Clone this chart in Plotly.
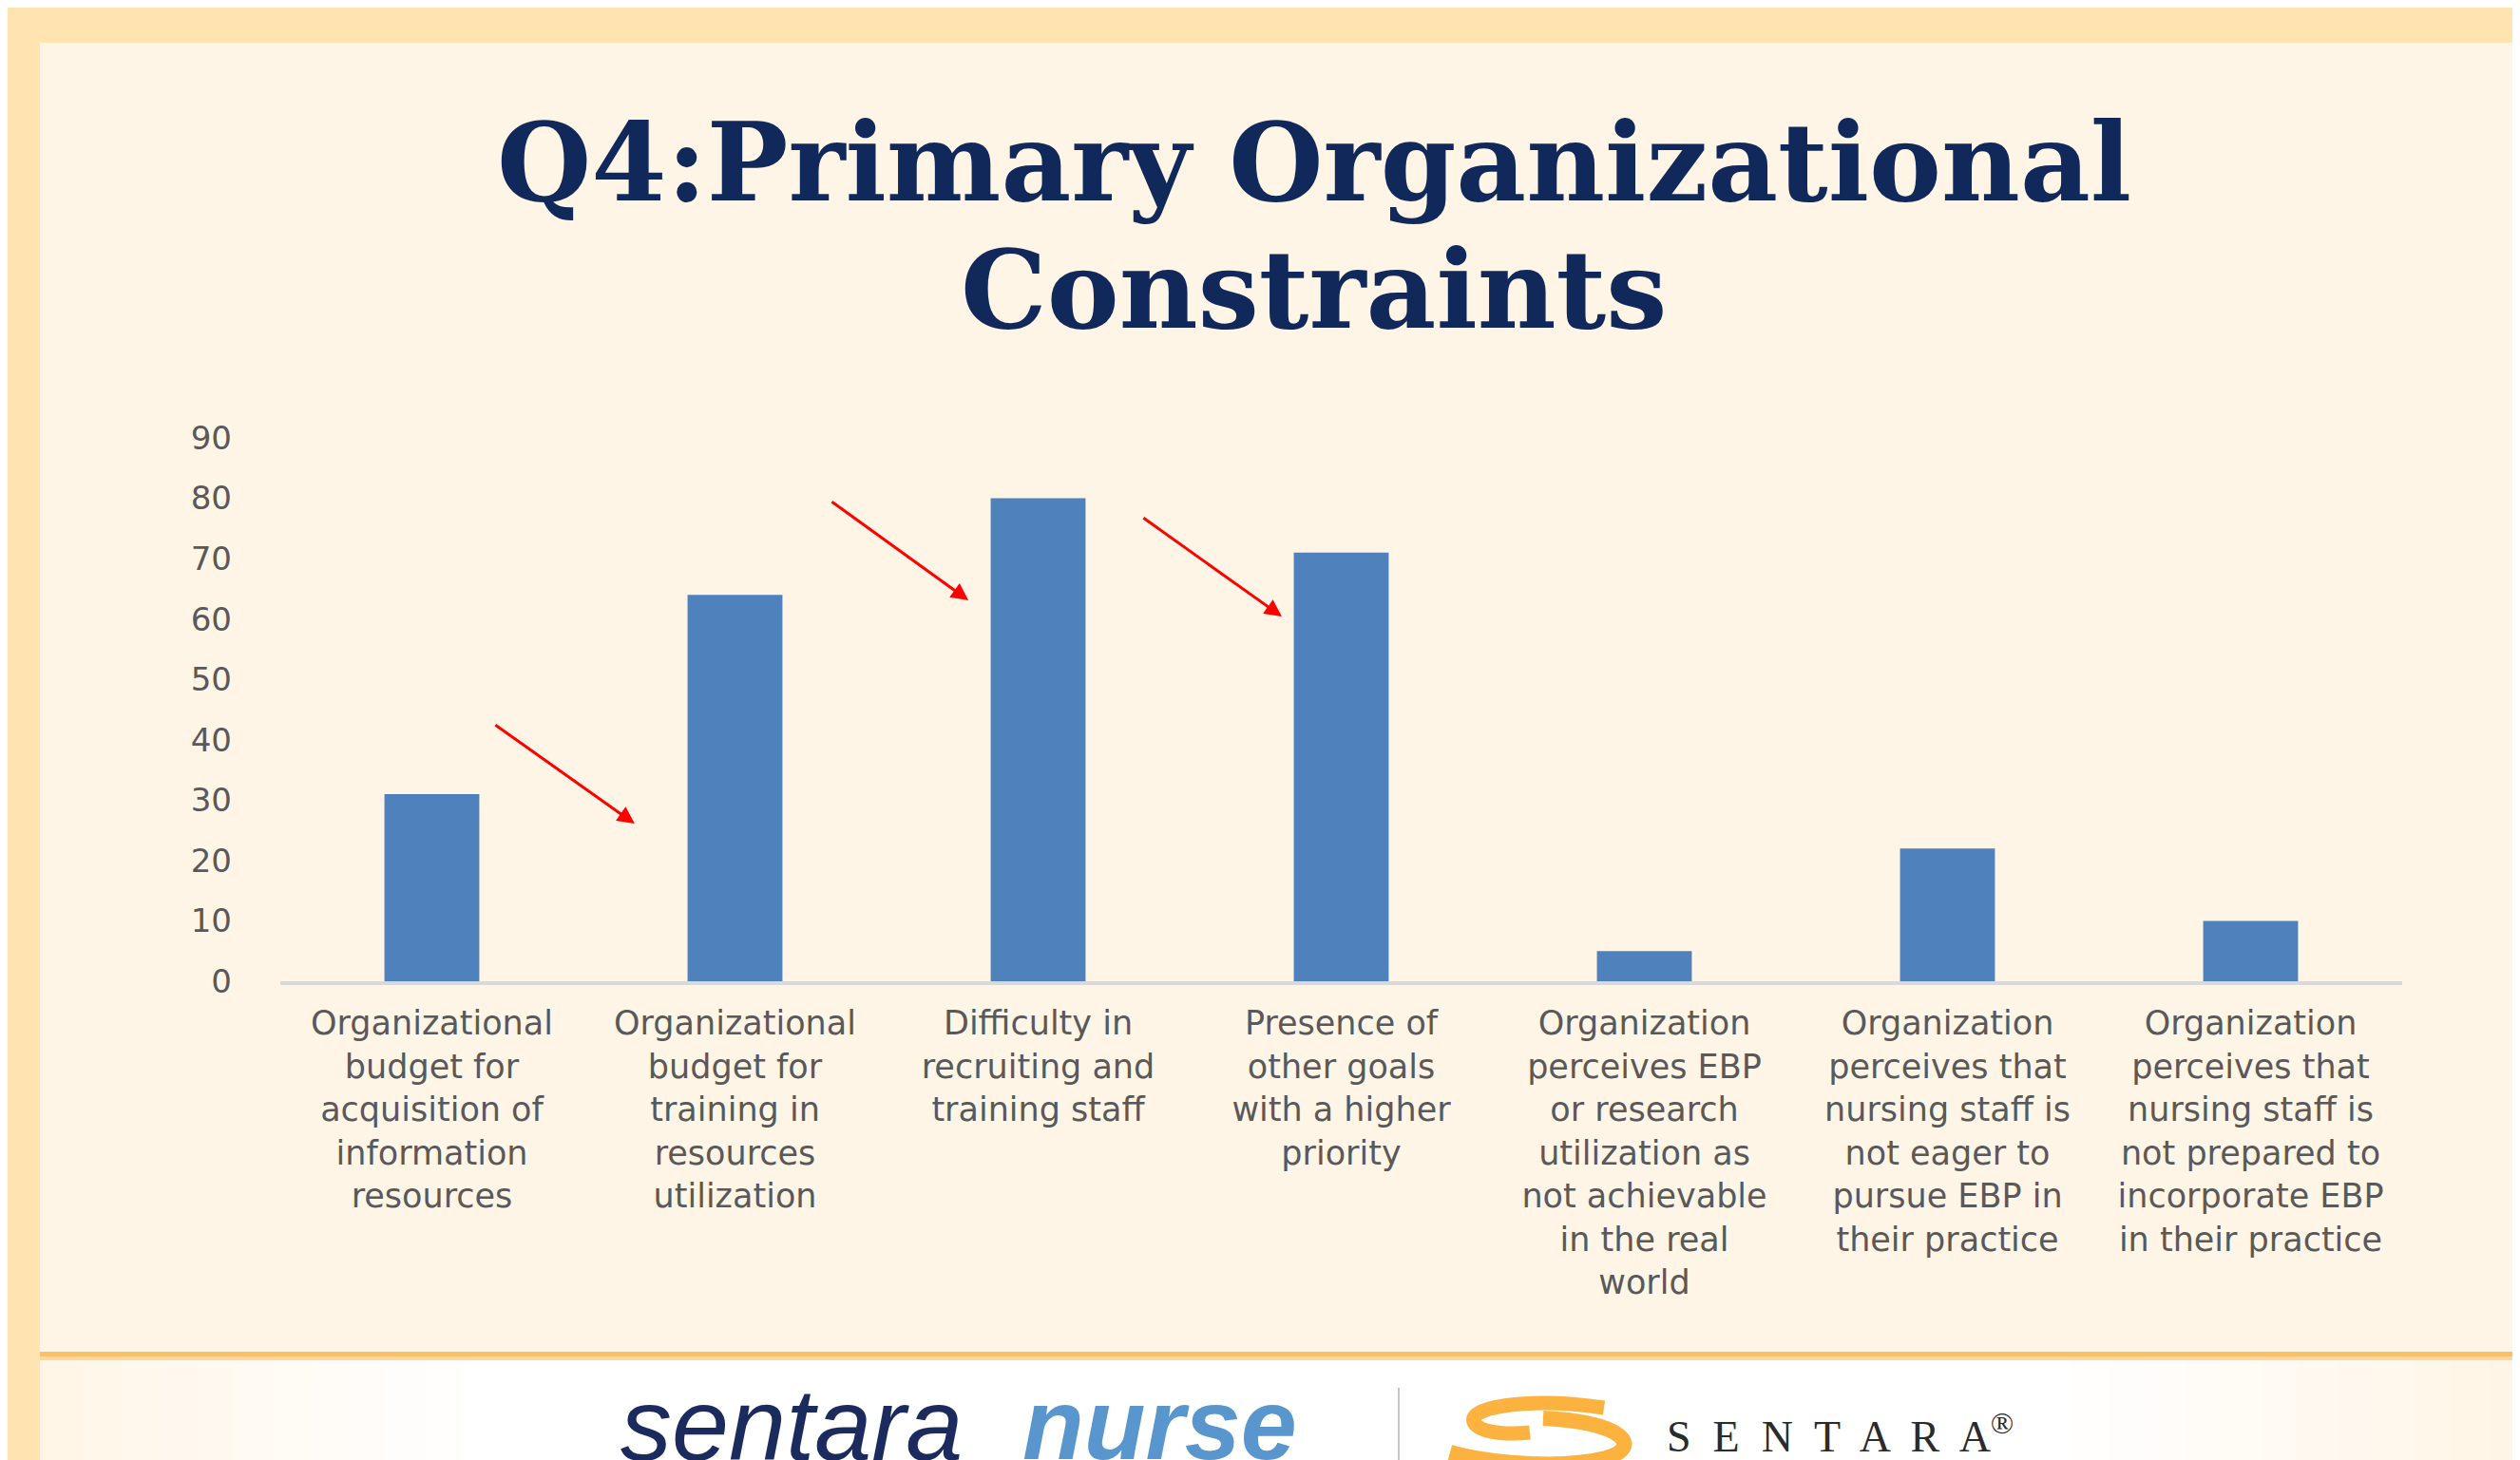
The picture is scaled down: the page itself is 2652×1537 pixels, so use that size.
import plotly.graph_objects as go

W, H = 2652, 1537
ML, MR, MT, MB = 287, 132, 453, 512

categories = [
    "Organizational budget for acquisition of information resources",
    "Organizational budget for training in resources utilization",
    "Difficulty in recruiting and training staff",
    "Presence of other goals with a higher priority",
    "Organization perceives EBP or research utilization as not achievable in the real world",
    "Organization perceives that nursing staff is not eager to pursue EBP in their practice",
    "Organization perceives that nursing staff is not prepared to incorporate EBP in their practice",
]
tick_labels = [
    "Organizational<br>budget for<br>acquisition of<br>information<br>resources",
    "Organizational<br>budget for<br>training in<br>resources<br>utilization",
    "Difficulty in<br>recruiting and<br>training staff",
    "Presence of<br>other goals<br>with a higher<br>priority",
    "Organization<br>perceives EBP<br>or research<br>utilization as<br>not achievable<br>in the real<br>world",
    "Organization<br>perceives that<br>nursing staff is<br>not eager to<br>pursue EBP in<br>their practice",
    "Organization<br>perceives that<br>nursing staff is<br>not prepared to<br>incorporate EBP<br>in their practice",
]
values = [31, 64, 80, 71, 5, 22, 10]
y_ticks = [0, 10, 20, 30, 40, 50, 60, 70, 80, 90]

# arrows: (tail index, tail value, head index, head value)
arrows = [
    (0.205, 42.6, 0.669, 26.1),
    (1.315, 79.6, 1.770, 63.1),
    (2.343, 76.9, 2.804, 60.4),
]

PW = W - ML - MR
PH = H - MT - MB


def px(x):
    return (x - ML) / PW


def py(y):
    return (H - MB - y) / PH


def P(x, y):
    return f"{px(x)},{py(y)}"


fig = go.Figure()
fig.add_trace(go.Bar(
    x=categories, y=values,
    marker=dict(color="#4F81BD", line=dict(width=0)),
    hoverinfo="x+y",
))

shapes = []
shapes.append(dict(type="rect", xref="paper", yref="paper", layer="below",
                   x0=px(0), x1=px(W), y0=py(H), y1=py(0),
                   fillcolor="#FFF5E6", line=dict(width=0)))
# footer: smooth fade from cream edges to white centre
steps = 12
c0 = (255, 245, 230)
c1 = (255, 255, 255)
for i in range(steps):
    t = (i + 1) / steps
    col = tuple(round(c0[k] + (c1[k] - c0[k]) * t) for k in range(3))
    inset_l = 40 + i * 40
    inset_r = 40 + i * 40
    shapes.append(dict(type="rect", xref="paper", yref="paper", layer="below",
                       x0=px(inset_l), x1=px(W - inset_r), y0=py(H), y1=py(1423),
                       fillcolor="rgb(%d,%d,%d)" % col, line=dict(width=0)))
# orange footer line
shapes.append(dict(type="rect", xref="paper", yref="paper", layer="below",
                   x0=px(0), x1=px(W), y0=py(1420), y1=py(1415),
                   fillcolor="#FBC063", line=dict(width=0)))
shapes.append(dict(type="rect", xref="paper", yref="paper", layer="below",
                   x0=px(0), x1=px(W), y0=py(1424), y1=py(1420),
                   fillcolor="#FDD698", line=dict(width=0)))
# top and left bands
shapes.append(dict(type="rect", xref="paper", yref="paper", layer="below",
                   x0=px(0), x1=px(W), y0=py(37), y1=py(0),
                   fillcolor="#FFE3B1", line=dict(width=0)))
shapes.append(dict(type="rect", xref="paper", yref="paper", layer="below",
                   x0=px(0), x1=px(34), y0=py(H), y1=py(0),
                   fillcolor="#FFE3B1", line=dict(width=0)))
# logo divider
shapes.append(dict(type="line", xref="paper", yref="paper",
                   x0=px(1464), x1=px(1464), y0=py(1453), y1=py(H),
                   line=dict(color="#C8C8C8", width=2)))
# S swoosh (orange)
shapes.append(dict(type="path", xref="paper", yref="paper",
                   path=f"M {P(1680,1474)} C {P(1600,1462)} {P(1528,1474)} {P(1545,1492)} "
                        f"C {P(1555,1502)} {P(1585,1502)} {P(1602,1500)}",
                   line=dict(color="#FBB23E", width=15)))
shapes.append(dict(type="path", xref="paper", yref="paper",
                   path=f"M {P(1616,1485)} C {P(1700,1489)} {P(1722,1515)} {P(1682,1527)} "
                        f"C {P(1640,1538)} {P(1565,1534)} {P(1518,1521)}",
                   line=dict(color="#FBB23E", width=16)))

annotations = []
annotations.append(dict(xref="paper", yref="paper", x=px(1375), y=py(163),
                        xanchor="center", yanchor="middle", showarrow=False,
                        text="<b>Q4:Primary Organizational</b>",
                        font=dict(family="DejaVu Serif", size=114, color="#10285A")))
annotations.append(dict(xref="paper", yref="paper", x=px(1374), y=py(297),
                        xanchor="center", yanchor="middle", showarrow=False,
                        text="<b>Constraints</b>",
                        font=dict(family="DejaVu Serif", size=114, color="#10285A")))
for (tx, ty, hx, hy) in arrows:
    annotations.append(dict(x=hx, y=hy, xref="x", yref="y",
                            ax=tx, ay=ty, axref="x", ayref="y",
                            showarrow=True, arrowhead=2, arrowsize=1.2,
                            arrowwidth=3, arrowcolor="#FF0000", text=""))
# footer logo text
annotations.append(dict(xref="paper", yref="paper", x=px(643), y=py(1491),
                        xanchor="left", yanchor="middle", showarrow=False,
                        text="<i>sentara</i>",
                        font=dict(family="Liberation Sans", size=108, color="#1C2B5E")))
annotations.append(dict(xref="paper", yref="paper", x=px(1066), y=py(1491),
                        xanchor="left", yanchor="middle", showarrow=False,
                        text="<b><i>nurse</i></b>",
                        font=dict(family="Liberation Sans", size=106, color="#5A96CE")))
annotations.append(dict(xref="paper", yref="paper", x=px(1744), y=py(1501),
                        xanchor="left", yanchor="middle", showarrow=False,
                        text="S  E  N  T  A  R  A<sup>®</sup>",
                        font=dict(family="Liberation Serif", size=46, color="#2B2B2B")))

fig.update_layout(
    width=W, height=H,
    margin=dict(l=ML, r=MR, t=MT, b=MB, pad=0),
    paper_bgcolor="#FFF5E6", plot_bgcolor="rgba(0,0,0,0)",
    bargap=0.687,
    showlegend=False,
    shapes=shapes,
    annotations=annotations,
    xaxis=dict(
        tickmode="array", tickvals=categories, ticktext=tick_labels,
        tickfont=dict(family="DejaVu Sans", size=35, color="#595959"),
        showgrid=False, zeroline=False,
        showline=True, linecolor="#D9D9D9", linewidth=4,
        ticks="", ticklabelstandoff=10, tickangle=0,
    ),
    yaxis=dict(
        range=[0, 90], tickmode="array", tickvals=y_ticks,
        tickfont=dict(family="DejaVu Sans", size=34, color="#595959"),
        showgrid=False, zeroline=False, showline=False,
        ticks="", ticklabelstandoff=50,
    ),
)

fig.write_html("out.html")
